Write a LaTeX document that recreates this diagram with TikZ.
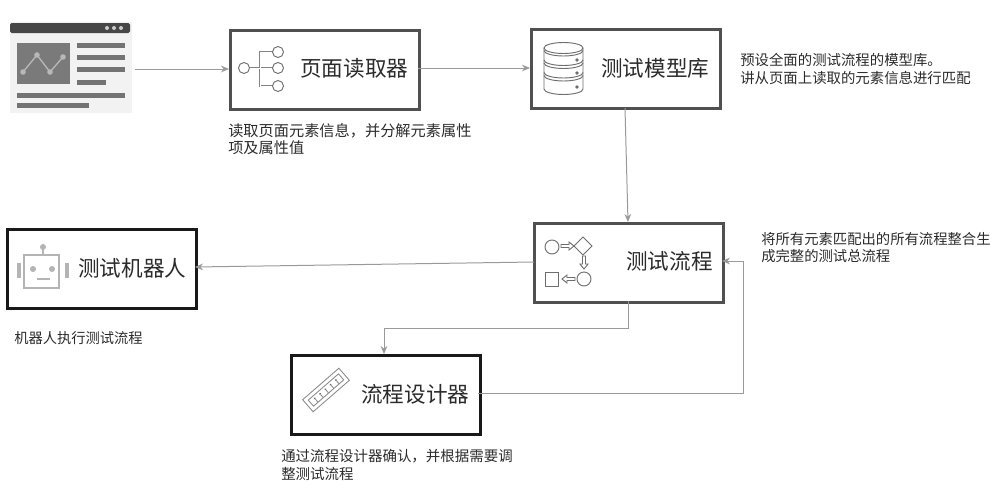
\documentclass[tikz,border=0pt]{standalone}
\usepackage{fontspec}
\setmainfont{Noto Sans CJK SC}
\usetikzlibrary{arrows.meta,positioning}
\definecolor{boxgrey}{HTML}{505050}
\definecolor{wire}{HTML}{9A9A9A}
\definecolor{icon}{HTML}{6E6E6E}
\definecolor{lighticon}{HTML}{B4B4B4}
\definecolor{txt}{HTML}{2B2B2B}
\tikzset{
  x=0.75pt,y=-0.75pt,
  mainbox/.style={draw=boxgrey,line width=1.9pt,fill=white,minimum width=142pt,minimum height=59.5pt,inner sep=0pt,anchor=north west},
  blackbox/.style={mainbox,draw=black!90},
  title/.style={font=\fontsize{16.2}{18}\selectfont,text=txt,inner sep=0pt,anchor=west},
  note/.style={text=txt,inner sep=0pt,anchor=north west,align=left},
  wireline/.style={draw=wire,line width=0.75pt,-{Stealth[length=6pt,width=5pt]}},
  ic/.style={draw=icon,line width=0.7pt},
  treeouter/.style={draw=icon!85,line width=1.7pt},
  treeinner/.style={draw=white,line width=0.6pt},
  hollow/.pic={\draw[draw=icon,line width=0.65pt,fill=white] (0,-1.5)--(8,-1.5)--(8,-4)--(13,0)--(8,4)--(8,1.5)--(0,1.5)--cycle;}
}
\begin{document}
\begin{tikzpicture}
\useasboundingbox (0,0) rectangle (1000,493);
% page thumbnail
\node[fill=black!5,draw=none,minimum width=91pt,minimum height=68pt,inner sep=0pt,anchor=north west] (page) at (10,22) {};
\fill[black!72,rounded corners=1.2pt] (10,23) rectangle (130,33);
\foreach \cx in {107,114,121}\fill[black!20] (\cx,28) circle (2);
\fill[black!52] (17,43) rectangle (70,84);
\draw[black!28,line width=1pt] (23,72)--(37,55)--(50,72)--(63,57);
\foreach \cx/\cy in {23/72,37/55,50/72,63/57}\fill[black!28] (\cx,\cy) circle (2.8);
\fill[black!55] (77,43) rectangle (125,48);
\fill[black!55] (77,55) rectangle (125,60);
\fill[black!55] (77,67) rectangle (125,72);
\fill[black!55] (77,80) rectangle (106,85);
\fill[black!55] (17,93) rectangle (125,98);
\fill[black!55] (17,103) rectangle (89,108);
% boxes
\node[mainbox] (reader) at (229,29) {};
\node[mainbox] (models) at (530,28) {};
\node[mainbox] (flow) at (533,222) {};
\node[blackbox] (robot) at (6,228) {};
\node[blackbox] (designer) at (290,354) {};
% titles
\node[title] (t1) at (300,68) {页面读取器};
\node[title] (t2) at (601,68) {测试模型库};
\node[title] (t3) at (626,261) {测试流程};
\node[title] (t4) at (78,268) {测试机器人};
\node[title] (t5) at (361,394) {流程设计器};
% notes
\node[note,font=\fontsize{11.4}{13.2}\selectfont] (n1) at (228,123) {读取页面元素信息，并分解元素属性\\项及属性值};
\node[note,font=\fontsize{10.8}{13.2}\selectfont] (n2) at (740,53) {预设全面的测试流程的模型库。\\讲从页面上读取的元素信息进行匹配};
\node[note,font=\fontsize{10.75}{13.2}\selectfont] (n3) at (761,232) {将所有元素匹配出的所有流程整合生\\成完整的测试总流程};
\node[note,font=\fontsize{10.7}{13.2}\selectfont] (n4) at (14,331) {机器人执行测试流程};
\node[note,font=\fontsize{10.85}{13.2}\selectfont] (n5) at (281,449) {通过流程设计器确认，并根据需要调\\整测试流程};
% connectors
\coordinate (c1) at (135,69);
\coordinate (c2) at (418,68);
\coordinate (c3) at (625,108);
\coordinate (c4) at (628,222);
\coordinate (c5) at (534,262);
\coordinate (c6) at (195,267);
\coordinate (c7) at (628,301);
\coordinate (c8) at (384,354);
\coordinate (c9) at (478,393);
\coordinate (c10) at (722,261);
\draw[wireline] (c1) -- (reader.west |- c1);
\draw[wireline] (c2) -- (models.west |- c2);
\draw[wireline] (c3) -- (c4);
\draw[wireline] (c5) -- (c6);
\draw[wireline] (c7) -- (628,328) -- (384,328) -- (c8);
\draw[wireline] (c9) -- (743,393) -- (743,261) -- (c10);
% reader icon
\draw[ic] (244,68) circle (5.5);
\draw[treeouter] (272.5,52) -- (260,52) -- (260,86) -- (272.5,86);
\draw[treeouter] (249.5,68) -- (272.5,68);
\draw[treeinner] (272.5,52) -- (260,52) -- (260,86) -- (272.5,86);
\draw[treeinner] (249.5,68) -- (272.5,68);
\foreach \cy in {52,68,86}\draw[ic] (278,\cy) circle (5.5);
% database icon
\draw[ic,fill=white] (544,48) -- (544,89) arc[start angle=180,end angle=0,x radius=19.5,y radius=5.5] -- (583,48);
\draw[ic] (563.5,48) ellipse (19.5 and 5.5);
\foreach \cy in {50.5,60,63,72.5,75.5}\draw[ic] (544,\cy) arc[start angle=180,end angle=0,x radius=19.5,y radius=5.5];
\foreach \cy in {60,73,87}\fill[icon] (577,\cy) circle (1.8);
% flow icon
\draw[ic] (552,247) circle (7);
\pic at (561,246) {hollow};
\draw[ic] (583,237) -- (592,246) -- (583,255) -- (574,246) -- cycle;
\pic[rotate=-90] at (584,256) {hollow};
\draw[ic] (584,279) circle (7);
\pic[rotate=180] at (575,279) {hollow};
\draw[ic] (545,272) rectangle (558,286);
% robot icon
\begin{scope}[draw=lighticon,line width=2pt]
\draw (24,255) rectangle (59,288);
\draw[line width=1.4pt] (43,255) -- (43,248);
\fill[lighticon] (43,247) circle (3);
\fill[lighticon] (33,269) circle (3);
\fill[lighticon] (52,269) circle (3);
\draw (37,279) -- (50,279);
\draw[line width=3pt] (19,263) -- (19,278);
\draw[line width=3pt] (67,263) -- (67,278);
\end{scope}
% ruler icon
\begin{scope}[shift={(326,390)},rotate=41]
\draw[draw=icon!80,line width=0.65pt] (-24,-8) rectangle (24,8);
\draw[draw=icon!80,line width=0.65pt] (-20,-4) rectangle (20,4);
\foreach \tx in {-14,-7,0,7,14}{
  \draw[draw=icon!80,line width=0.65pt] (\tx,4) -- (\tx,0);
  \fill[icon] (\tx,-1) circle (1);
}
\end{scope}
\end{tikzpicture}
\end{document}
